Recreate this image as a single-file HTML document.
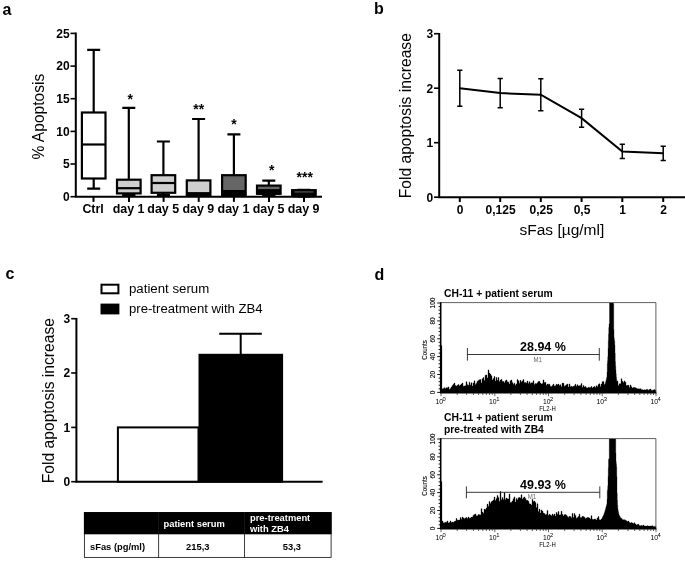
<!DOCTYPE html>
<html><head><meta charset="utf-8"><title>Figure</title>
<style>html,body{margin:0;padding:0;background:#fff;}body{width:685px;height:567px;position:relative;overflow:hidden;font-family:"Liberation Sans",sans-serif;}</style></head>
<body>
<svg width="685" height="567" viewBox="0 0 685 567" style="position:absolute;left:0;top:0;will-change:transform" font-family="'Liberation Sans', sans-serif" fill="#000">
<rect width="685" height="567" fill="#fff"/>
<text x="2.4" y="14.5" font-size="16" font-weight="bold">a</text>
<text x="374" y="13.6" font-size="16" font-weight="bold">b</text>
<text x="5.6" y="279.2" font-size="16" font-weight="bold">c</text>
<text x="374.6" y="279.8" font-size="16" font-weight="bold">d</text>
<g stroke="#000" stroke-width="2" fill="none" stroke-linecap="butt">
<path d="M75.8,32.6 V196.7 M74.8,196.7 H322"/>
<path d="M70.5,196.7 H75.7" stroke-width="1.6"/>
<path d="M70.5,164.0 H75.7" stroke-width="1.6"/>
<path d="M70.5,131.4 H75.7" stroke-width="1.6"/>
<path d="M70.5,98.7 H75.7" stroke-width="1.6"/>
<path d="M70.5,66.1 H75.7" stroke-width="1.6"/>
<path d="M70.5,33.4 H75.7" stroke-width="1.6"/>
<path d="M93.5,196.7 V201.9"/>
<path d="M129,196.7 V201.9"/>
<path d="M163.6,196.7 V201.9"/>
<path d="M198.7,196.7 V201.9"/>
<path d="M233.9,196.7 V201.9"/>
<path d="M269,196.7 V201.9"/>
<path d="M304,196.7 V201.9"/>
</g>
<g stroke="#000" stroke-width="2.2">
<path d="M93.7,112.5 V49.8 M87.2,49.8 H100.2 M93.7,178.4 V188.6 M87.2,188.6 H100.2" fill="none"/>
<rect x="81.9" y="112.5" width="23.6" height="66.0" fill="#fff"/>
<path d="M81.9,144.5 H105.5"/>
<path d="M128.8,179.7 V107.9 M122.30000000000001,107.9 H135.3 M128.8,193.4 V195.7 M122.30000000000001,195.7 H135.3" fill="none"/>
<rect x="117.0" y="179.7" width="23.6" height="13.7" fill="#cfcfcf"/>
<path d="M117.0,188.2 H140.6"/>
<path d="M163.4,175.2 V141.5 M156.9,141.5 H169.9 M163.4,192.8 V195.7 M156.9,195.7 H169.9" fill="none"/>
<rect x="151.6" y="175.2" width="23.6" height="17.6" fill="#cfcfcf"/>
<path d="M151.6,183.0 H175.2"/>
<path d="M198.6,180.4 V119.0 M192.1,119.0 H205.1 M198.6,195.7 V196.0 M192.1,196.0 H205.1" fill="none"/>
<rect x="186.8" y="180.4" width="23.6" height="15.3" fill="#cfcfcf"/>
<path d="M186.8,193.4 H210.4"/>
<path d="M233.9,175.2 V134.3 M227.4,134.3 H240.4 M233.9,195.7 V196.0 M227.4,196.0 H240.4" fill="none"/>
<rect x="222.1" y="175.2" width="23.6" height="20.6" fill="#666"/>
<path d="M222.1,191.1 H245.7"/>
<path d="M268.8,185.6 V180.7 M262.3,180.7 H275.3 M268.8,193.8 V195.7 M262.3,195.7 H275.3" fill="none"/>
<rect x="257.0" y="185.6" width="23.6" height="8.2" fill="#666"/>
<path d="M257.0,190.5 H280.6"/>
<path d="M303.9,190.2 V189.8 M297.4,189.8 H310.4 M303.9,196.0 V196.4 M297.4,196.4 H310.4" fill="none"/>
<rect x="292.1" y="190.2" width="23.6" height="5.9" fill="#666"/>
<path d="M292.1,192.8 H315.7"/>
</g>
<rect x="186.8" y="192.3" width="23.6" height="4.4"/>
<rect x="222.1" y="190.4" width="23.6" height="6.3"/>
<rect x="257" y="189.3" width="23.6" height="5.2"/>
<rect x="292.1" y="189.6" width="23.6" height="7"/>
<rect x="294.5" y="191.5" width="19" height="0.9" fill="#777"/>
<rect x="262.3" y="194" width="13" height="2.5"/>
<rect x="122.3" y="194" width="13" height="2.5"/>
<rect x="157" y="194" width="13" height="2.5"/>
<g font-size="12" font-weight="bold" text-anchor="end">
<text x="69.7" y="201.0">0</text>
<text x="69.7" y="168.3">5</text>
<text x="69.7" y="135.7">10</text>
<text x="69.7" y="103.0">15</text>
<text x="69.7" y="70.4">20</text>
<text x="69.7" y="37.7">25</text>
</g>
<g font-size="12.45" font-weight="bold" text-anchor="middle">
<text x="93.1" y="212.6">Ctrl</text>
<text x="128.6" y="212.6">day 1</text>
<text x="163.2" y="212.6">day 5</text>
<text x="198.29999999999998" y="212.6">day 9</text>
<text x="233.5" y="212.6">day 1</text>
<text x="268.6" y="212.6">day 5</text>
<text x="303.6" y="212.6">day 9</text>
<text x="130.3" y="103.8" font-size="14">*</text>
<text x="198.7" y="113.8" font-size="14">**</text>
<text x="234" y="129.4" font-size="14">*</text>
<text x="271.7" y="174.8" font-size="14">*</text>
<text x="304.7" y="181.8" font-size="14">***</text>
</g>
<text transform="translate(43.8,159.5) rotate(-90)" font-size="15.6">% Apoptosis</text>
<g stroke="#000" stroke-width="2" fill="none">
<path d="M439.2,32.9 V197.2 M438.2,197.2 H685"/>
<path d="M434,197.2 H439.3" stroke-width="1.6"/>
<path d="M434,142.7 H439.3" stroke-width="1.6"/>
<path d="M434,88.2 H439.3" stroke-width="1.6"/>
<path d="M434,33.7 H439.3" stroke-width="1.6"/>
<path d="M459.8,197.2 V202"/>
<path d="M500.2,197.2 V202"/>
<path d="M540.8,197.2 V202"/>
<path d="M581.6,197.2 V202"/>
<path d="M622.3,197.2 V202"/>
<path d="M663.2,197.2 V202"/>
<path d="M459.8,88.2 L500.2,93.1 L540.8,94.7 L581.6,118.2 L622.3,151.4 L663.2,153.3" stroke-width="2"/>
</g>
<g stroke="#000" stroke-width="1.5" fill="none">
<path d="M459.8,70.2 V106.2 M457.2,70.2 H462.40000000000003 M457.2,106.2 H462.40000000000003"/>
<path d="M500.2,78.4 V107.8 M497.59999999999997,78.4 H502.8 M497.59999999999997,107.8 H502.8"/>
<path d="M540.8,78.7 V110.8 M538.1999999999999,78.7 H543.4 M538.1999999999999,110.8 H543.4"/>
<path d="M581.6,109.2 V127.2 M579.0,109.2 H584.2 M579.0,127.2 H584.2"/>
<path d="M622.3,144.3 V158.5 M619.6999999999999,144.3 H624.9 M619.6999999999999,158.5 H624.9"/>
<path d="M663.2,146.2 V160.4 M660.6,146.2 H665.8000000000001 M660.6,160.4 H665.8000000000001"/>
</g>
<g font-size="12" font-weight="bold" text-anchor="end">
<text x="433.2" y="201.5">0</text>
<text x="433.2" y="147.0">1</text>
<text x="433.2" y="92.5">2</text>
<text x="433.2" y="38.0">3</text>
</g>
<g font-size="12" font-weight="bold" text-anchor="middle">
<text x="460.2" y="213.6">0</text>
<text x="500.59999999999997" y="213.6">0,125</text>
<text x="541.1999999999999" y="213.6">0,25</text>
<text x="582.0" y="213.6">0,5</text>
<text x="622.6999999999999" y="213.6">1</text>
<text x="663.6" y="213.6">2</text>
</g>
<text x="519.5" y="235.2" font-size="15.5">sFas [µg/ml]</text>
<text transform="translate(410.8,198.3) rotate(-90)" font-size="15.65">Fold apoptosis increase</text>
<g stroke="#000" stroke-width="2" fill="none">
<path d="M76.4,317.9 V481.7 M75.4,481.7 H322.6"/>
<path d="M71.2,481.7 H76.4" stroke-width="1.6"/>
<path d="M71.2,427.4 H76.4" stroke-width="1.6"/>
<path d="M71.2,373.0 H76.4" stroke-width="1.6"/>
<path d="M71.2,318.7 H76.4" stroke-width="1.6"/>
<rect x="117.9" y="427.4" width="80.6" height="54.3" fill="#fff"/>
<rect x="199.5" y="354.8" width="82.6" height="126.9" fill="#000"/>
<path d="M240.7,355.1 V333.8 M219.2,333.8 H261.8"/>
<rect x="101.5" y="284.7" width="16.9" height="8.6" fill="#fff"/>
<rect x="101.5" y="304.6" width="16.9" height="8.8" fill="#000"/>
</g>
<g font-size="12" font-weight="bold" text-anchor="end">
<text x="70.3" y="486.0">0</text>
<text x="70.3" y="431.7">1</text>
<text x="70.3" y="377.3">2</text>
<text x="70.3" y="323.0">3</text>
</g>
<text x="129" y="293.2" font-size="13.25">patient serum</text>
<text x="129" y="313.3" font-size="13.15">pre-treatment with ZB4</text>
<text transform="translate(54.2,483.2) rotate(-90)" font-size="15.65">Fold apoptosis increase</text>
<rect x="84.4" y="512.6" width="246.7" height="44.8" fill="#fff" stroke="#1a1a1a" stroke-width="0.85"/>
<rect x="83.9" y="512.1" width="247.7" height="22.2" fill="#000"/>
<path d="M158.6,534 V557.4 M244.5,534 V557.4" stroke="#1a1a1a" stroke-width="0.85"/>
<path d="M158.6,512.3 V534 M244.5,512.3 V534" stroke="#2a2a2a" stroke-width="0.5"/>
<g font-size="9.35" font-weight="bold">
<text x="163.5" y="526.8" fill="#fff">patient serum</text>
<text x="250" y="521.4" fill="#fff">pre-treatment</text>
<text x="250" y="532" fill="#fff">with ZB4</text>
<text x="90" y="549.6">sFas (pg/ml)</text>
<text x="197.8" y="549.6" text-anchor="middle">215,3</text>
<text x="291.9" y="549.6" text-anchor="middle">53,3</text>
</g>
<path d="M441.0,392.4L441.0,388.3L442.0,388.3L442.0,389.1L443.0,389.1L443.0,388.4L444.0,388.4L444.0,387.8L445.0,387.8L445.0,388.6L446.0,388.6L446.0,387.7L447.0,387.7L447.0,387.7L448.0,387.7L448.0,386.9L449.0,386.9L449.0,389.2L450.0,389.2L450.0,388.6L451.0,388.6L451.0,386.9L452.0,386.9L452.0,385.5L453.0,385.5L453.0,384.2L454.0,384.2L454.0,383.1L455.0,383.1L455.0,385.5L456.0,385.5L456.0,386.0L457.0,386.0L457.0,385.3L458.0,385.3L458.0,384.5L459.0,384.5L459.0,385.7L460.0,385.7L460.0,385.1L461.0,385.1L461.0,384.1L462.0,384.1L462.0,383.0L463.0,383.0L463.0,386.2L464.0,386.2L464.0,385.9L465.0,385.9L465.0,385.7L466.0,385.7L466.0,381.7L467.0,381.7L467.0,384.8L468.0,384.8L468.0,385.2L469.0,385.2L469.0,382.2L470.0,382.2L470.0,384.9L471.0,384.9L471.0,382.8L472.0,382.8L472.0,385.9L473.0,385.9L473.0,383.0L474.0,383.0L474.0,380.8L475.0,380.8L475.0,384.5L476.0,384.5L476.0,383.2L477.0,383.2L477.0,381.2L478.0,381.2L478.0,380.4L479.0,380.4L479.0,379.7L480.0,379.7L480.0,379.5L481.0,379.5L481.0,382.7L482.0,382.7L482.0,378.7L483.0,378.7L483.0,377.6L484.0,377.6L484.0,380.5L485.0,380.5L485.0,375.2L486.0,375.2L486.0,375.0L487.0,375.0L487.0,377.9L488.0,377.9L488.0,369.9L489.0,369.9L489.0,373.1L490.0,373.1L490.0,374.3L491.0,374.3L491.0,375.7L492.0,375.7L492.0,380.1L493.0,380.1L493.0,378.4L494.0,378.4L494.0,376.6L495.0,376.6L495.0,380.9L496.0,380.9L496.0,377.4L497.0,377.4L497.0,380.3L498.0,380.3L498.0,377.5L499.0,377.5L499.0,381.6L500.0,381.6L500.0,380.1L501.0,380.1L501.0,379.3L502.0,379.3L502.0,381.2L503.0,381.2L503.0,381.6L504.0,381.6L504.0,382.7L505.0,382.7L505.0,380.7L506.0,380.7L506.0,379.9L507.0,379.9L507.0,381.8L508.0,381.8L508.0,382.2L509.0,382.2L509.0,383.9L510.0,383.9L510.0,380.8L511.0,380.8L511.0,380.1L512.0,380.1L512.0,382.6L513.0,382.6L513.0,384.2L514.0,384.2L514.0,383.2L515.0,383.2L515.0,385.2L516.0,385.2L516.0,383.9L517.0,383.9L517.0,379.6L518.0,379.6L518.0,380.7L519.0,380.7L519.0,383.2L520.0,383.2L520.0,380.2L521.0,380.2L521.0,381.9L522.0,381.9L522.0,380.9L523.0,380.9L523.0,379.6L524.0,379.6L524.0,382.5L525.0,382.5L525.0,382.6L526.0,382.6L526.0,383.0L527.0,383.0L527.0,381.1L528.0,381.1L528.0,383.6L529.0,383.6L529.0,381.7L530.0,381.7L530.0,383.6L531.0,383.6L531.0,382.7L532.0,382.7L532.0,382.7L533.0,382.7L533.0,380.7L534.0,380.7L534.0,384.5L535.0,384.5L535.0,383.6L536.0,383.6L536.0,383.7L537.0,383.7L537.0,382.7L538.0,382.7L538.0,381.4L539.0,381.4L539.0,381.3L540.0,381.3L540.0,383.1L541.0,383.1L541.0,383.9L542.0,383.9L542.0,383.6L543.0,383.6L543.0,379.9L544.0,379.9L544.0,382.4L545.0,382.4L545.0,382.3L546.0,382.3L546.0,385.2L547.0,385.2L547.0,384.1L548.0,384.1L548.0,384.2L549.0,384.2L549.0,384.2L550.0,384.2L550.0,386.2L551.0,386.2L551.0,386.4L552.0,386.4L552.0,385.5L553.0,385.5L553.0,384.1L554.0,384.1L554.0,386.1L555.0,386.1L555.0,385.7L556.0,385.7L556.0,384.3L557.0,384.3L557.0,384.8L558.0,384.8L558.0,384.1L559.0,384.1L559.0,385.5L560.0,385.5L560.0,384.7L561.0,384.7L561.0,386.8L562.0,386.8L562.0,383.1L563.0,383.1L563.0,383.3L564.0,383.3L564.0,386.3L565.0,386.3L565.0,385.4L566.0,385.4L566.0,384.8L567.0,384.8L567.0,384.0L568.0,384.0L568.0,387.0L569.0,387.0L569.0,383.9L570.0,383.9L570.0,386.4L571.0,386.4L571.0,386.3L572.0,386.3L572.0,386.7L573.0,386.7L573.0,386.3L574.0,386.3L574.0,385.7L575.0,385.7L575.0,384.3L576.0,384.3L576.0,386.2L577.0,386.2L577.0,384.8L578.0,384.8L578.0,386.0L579.0,386.0L579.0,385.8L580.0,385.8L580.0,385.4L581.0,385.4L581.0,383.6L582.0,383.6L582.0,387.2L583.0,387.2L583.0,385.4L584.0,385.4L584.0,386.9L585.0,386.9L585.0,386.4L586.0,386.4L586.0,387.7L587.0,387.7L587.0,387.9L588.0,387.9L588.0,387.3L589.0,387.3L589.0,387.5L590.0,387.5L590.0,387.4L591.0,387.4L591.0,386.5L592.0,386.5L592.0,388.1L593.0,388.1L593.0,387.0L594.0,387.0L594.0,386.5L595.0,386.5L595.0,387.6L596.0,387.6L596.0,385.8L597.0,385.8L597.0,386.8L598.0,386.8L598.0,384.4L599.0,384.4L599.0,383.8L600.0,383.8L600.0,386.4L601.0,386.4L601.0,384.1L602.0,384.1L602.0,381.7L603.0,381.7L603.0,381.6L604.0,381.6L604.0,384.6L605.0,384.6L605.00,383.9L605.25,383.9L605.25,383.0L605.50,383.0L605.50,382.1L605.75,382.1L605.75,381.2L606.00,381.2L606.00,380.3L606.25,380.3L606.25,379.2L606.50,379.2L606.50,378.1L606.75,378.1L606.75,377.0L607.00,377.0L607.00,372.1L607.25,372.1L607.25,363.6L607.50,363.6L607.50,360.8L607.75,360.8L607.75,356.8L608.00,356.8L608.00,348.3L608.25,348.3L608.25,340.5L608.50,340.5L608.50,334.0L608.75,334.0L608.75,327.6L609.00,327.6L609.00,324.1L609.25,324.1L609.25,323.6L609.50,323.6L609.50,303.0L609.75,303.0L609.75,303.0L610.00,303.0L610.00,303.0L610.25,303.0L610.25,303.0L610.50,303.0L610.50,303.0L610.75,303.0L610.75,303.0L611.00,303.0L611.00,303.0L611.25,303.0L611.25,303.0L611.50,303.0L611.50,303.0L611.75,303.0L611.75,303.0L612.00,303.0L612.00,303.0L612.25,303.0L612.25,303.0L612.50,303.0L612.50,303.0L612.75,303.0L612.75,303.0L613.00,303.0L613.00,303.0L613.25,303.0L613.25,303.0L613.50,303.0L613.50,303.9L613.75,303.9L613.75,329.5L614.00,329.5L614.00,337.6L614.25,337.6L614.25,339.4L614.50,339.4L614.50,341.2L614.75,341.2L614.75,344.9L615.00,344.9L615.00,353.2L615.25,353.2L615.25,361.6L615.50,361.6L615.50,365.9L615.75,365.9L615.75,369.8L616.00,369.8L616.00,373.7L616.25,373.7L616.25,377.0L616.50,377.0L616.50,379.1L616.75,379.1L616.75,381.2L617.00,381.2L617.0,381.1L618.0,381.1L618.0,385.6L619.0,385.6L619.0,383.7L620.0,383.7L620.0,383.7L621.0,383.7L621.0,378.8L622.0,378.8L622.0,381.3L623.0,381.3L623.0,382.5L624.0,382.5L624.0,380.9L625.0,380.9L625.0,382.3L626.0,382.3L626.0,385.5L627.0,385.5L627.0,385.3L628.0,385.3L628.0,385.2L629.0,385.2L629.0,387.5L630.0,387.5L630.0,385.0L631.0,385.0L631.0,386.7L632.0,386.7L632.0,388.0L633.0,388.0L633.0,387.6L634.0,387.6L634.0,387.4L635.0,387.4L635.0,387.7L636.0,387.7L636.0,388.2L637.0,388.2L637.0,388.8L638.0,388.8L638.0,388.7L639.0,388.7L639.0,389.0L640.0,389.0L640.0,388.7L641.0,388.7L641.0,389.4L642.0,389.4L642.0,389.8L643.0,389.8L643.0,389.9L644.0,389.9L644.0,389.8L645.0,389.8L645.0,390.1L646.0,390.1L646.0,389.4L647.0,389.4L647.0,389.4L648.0,389.4L648.0,390.2L649.0,390.2L649.0,389.5L650.0,389.5L650.0,389.0L651.0,389.0L651.0,390.2L652.0,390.2L652.0,390.2L653.0,390.2L653.0,389.9L654.0,389.9L654.0,389.6L655.0,389.6L655.0,390.3L656.0,390.3L656.0,392.4Z" fill="#000" stroke="#000" stroke-width="0.3"/>
<path d="M441,302.6 H655.9 V392.4" fill="none" stroke="#3a3a3a" stroke-width="0.8"/>
<path d="M440.7,302.2 V393.0" fill="none" stroke="#000" stroke-width="1.6"/>
<path d="M440,392.79999999999995 H656.3" fill="none" stroke="#000" stroke-width="1.4"/>
<rect x="440.5" y="345.4" width="1.6" height="47" fill="#000"/>
<g stroke="#000" stroke-width="0.9">
<path d="M437.2,392.4 H441"/>
<path d="M438.6,388.8 H441"/>
<path d="M438.6,385.2 H441"/>
<path d="M438.6,381.7 H441"/>
<path d="M438.6,378.1 H441"/>
<path d="M437.2,374.5 H441"/>
<path d="M438.6,370.9 H441"/>
<path d="M438.6,367.4 H441"/>
<path d="M438.6,363.8 H441"/>
<path d="M438.6,360.2 H441"/>
<path d="M437.2,356.6 H441"/>
<path d="M438.6,353.1 H441"/>
<path d="M438.6,349.5 H441"/>
<path d="M438.6,345.9 H441"/>
<path d="M438.6,342.3 H441"/>
<path d="M437.2,338.8 H441"/>
<path d="M438.6,335.2 H441"/>
<path d="M438.6,331.6 H441"/>
<path d="M438.6,328.0 H441"/>
<path d="M438.6,324.5 H441"/>
<path d="M437.2,320.9 H441"/>
<path d="M438.6,317.3 H441"/>
<path d="M438.6,313.7 H441"/>
<path d="M438.6,310.2 H441"/>
<path d="M438.6,306.6 H441"/>
<path d="M437.2,303.0 H441"/>
<path d="M441.0,392.4 V396.2" stroke-width="0.7" stroke="#222"/>
<path d="M457.2,392.4 V395.0" stroke-width="0.7" stroke="#222"/>
<path d="M466.6,392.4 V395.0" stroke-width="0.7" stroke="#222"/>
<path d="M473.4,392.4 V395.0" stroke-width="0.7" stroke="#222"/>
<path d="M478.6,392.4 V395.0" stroke-width="0.7" stroke="#222"/>
<path d="M482.8,392.4 V395.0" stroke-width="0.7" stroke="#222"/>
<path d="M486.4,392.4 V395.0" stroke-width="0.7" stroke="#222"/>
<path d="M489.5,392.4 V395.0" stroke-width="0.7" stroke="#222"/>
<path d="M492.3,392.4 V395.0" stroke-width="0.7" stroke="#222"/>
<path d="M494.8,392.4 V396.2" stroke-width="0.7" stroke="#222"/>
<path d="M510.9,392.4 V395.0" stroke-width="0.7" stroke="#222"/>
<path d="M520.4,392.4 V395.0" stroke-width="0.7" stroke="#222"/>
<path d="M527.1,392.4 V395.0" stroke-width="0.7" stroke="#222"/>
<path d="M532.3,392.4 V395.0" stroke-width="0.7" stroke="#222"/>
<path d="M536.6,392.4 V395.0" stroke-width="0.7" stroke="#222"/>
<path d="M540.2,392.4 V395.0" stroke-width="0.7" stroke="#222"/>
<path d="M543.3,392.4 V395.0" stroke-width="0.7" stroke="#222"/>
<path d="M546.0,392.4 V395.0" stroke-width="0.7" stroke="#222"/>
<path d="M548.5,392.4 V396.2" stroke-width="0.7" stroke="#222"/>
<path d="M564.7,392.4 V395.0" stroke-width="0.7" stroke="#222"/>
<path d="M574.1,392.4 V395.0" stroke-width="0.7" stroke="#222"/>
<path d="M580.9,392.4 V395.0" stroke-width="0.7" stroke="#222"/>
<path d="M586.1,392.4 V395.0" stroke-width="0.7" stroke="#222"/>
<path d="M590.3,392.4 V395.0" stroke-width="0.7" stroke="#222"/>
<path d="M593.9,392.4 V395.0" stroke-width="0.7" stroke="#222"/>
<path d="M597.0,392.4 V395.0" stroke-width="0.7" stroke="#222"/>
<path d="M599.8,392.4 V395.0" stroke-width="0.7" stroke="#222"/>
<path d="M602.2,392.4 V396.2" stroke-width="0.7" stroke="#222"/>
<path d="M618.4,392.4 V395.0" stroke-width="0.7" stroke="#222"/>
<path d="M627.9,392.4 V395.0" stroke-width="0.7" stroke="#222"/>
<path d="M634.6,392.4 V395.0" stroke-width="0.7" stroke="#222"/>
<path d="M639.8,392.4 V395.0" stroke-width="0.7" stroke="#222"/>
<path d="M644.1,392.4 V395.0" stroke-width="0.7" stroke="#222"/>
<path d="M647.7,392.4 V395.0" stroke-width="0.7" stroke="#222"/>
<path d="M650.8,392.4 V395.0" stroke-width="0.7" stroke="#222"/>
<path d="M653.5,392.4 V395.0" stroke-width="0.7" stroke="#222"/>
<path d="M656,392.4 V396.2" stroke-width="0.7" stroke="#222"/>
</g>
<g font-size="6.6" fill="#000" stroke="#000" stroke-width="0.1" text-anchor="middle">
<text transform="translate(434.7,392.4) rotate(-90)">0</text>
<text transform="translate(434.7,374.5) rotate(-90)">20</text>
<text transform="translate(434.7,356.6) rotate(-90)">40</text>
<text transform="translate(434.7,338.8) rotate(-90)">60</text>
<text transform="translate(434.7,320.9) rotate(-90)">80</text>
<text transform="translate(434.7,303.0) rotate(-90)">100</text>
<text transform="translate(427.3,349.9) rotate(-90)" font-size="6.6" textLength="19.6" lengthAdjust="spacingAndGlyphs">Counts</text>
</g>
<g font-size="6.8" fill="#000">
<text x="435.4" y="404.40000000000003">10<tspan font-size="5.8" dy="-3.4" dx="-0.4">0</tspan></text>
<text x="489.1" y="404.40000000000003">10<tspan font-size="5.8" dy="-3.4" dx="-0.4">1</tspan></text>
<text x="542.9" y="404.40000000000003">10<tspan font-size="5.8" dy="-3.4" dx="-0.4">2</tspan></text>
<text x="596.6" y="404.40000000000003">10<tspan font-size="5.8" dy="-3.4" dx="-0.4">3</tspan></text>
<text x="650.4" y="404.40000000000003">10<tspan font-size="5.8" dy="-3.4" dx="-0.4">4</tspan></text>
<text x="547.5" y="410.6" text-anchor="middle" font-size="7.2" textLength="16.5" lengthAdjust="spacingAndGlyphs">FL2-H</text>
</g>
<path d="M467.4,354.5 H599.3 M467.4,348 V360.7 M599.3,348 V360.7" stroke="#222" stroke-width="0.9" fill="none"/>
<text x="533.5" y="361.5" font-size="6.6" fill="#666" textLength="8.4" lengthAdjust="spacingAndGlyphs">M1</text>
<text x="520" y="350.6" font-size="12.5" font-weight="bold">28.94 %</text>
<text x="444" y="297.2" font-size="10.33" font-weight="bold">CH-11 + patient serum</text>
<path d="M441.0,528.4L441.0,523.2L442.0,523.2L442.0,521.1L443.0,521.1L443.0,522.7L444.0,522.7L444.0,522.7L445.0,522.7L445.0,522.2L446.0,522.2L446.0,522.2L447.0,522.2L447.0,521.1L448.0,521.1L448.0,522.9L449.0,522.9L449.0,522.6L450.0,522.6L450.0,520.9L451.0,520.9L451.0,522.6L452.0,522.6L452.0,522.0L453.0,522.0L453.0,522.3L454.0,522.3L454.0,521.6L455.0,521.6L455.0,521.0L456.0,521.0L456.0,518.5L457.0,518.5L457.0,520.2L458.0,520.2L458.0,520.1L459.0,520.1L459.0,520.0L460.0,520.0L460.0,517.6L461.0,517.6L461.0,519.2L462.0,519.2L462.0,517.0L463.0,517.0L463.0,517.9L464.0,517.9L464.0,518.8L465.0,518.8L465.0,517.9L466.0,517.9L466.0,517.5L467.0,517.5L467.0,518.6L468.0,518.6L468.0,517.0L469.0,517.0L469.0,518.2L470.0,518.2L470.0,518.1L471.0,518.1L471.0,517.1L472.0,517.1L472.0,516.9L473.0,516.9L473.0,515.3L474.0,515.3L474.0,514.5L475.0,514.5L475.0,514.0L476.0,514.0L476.0,515.8L477.0,515.8L477.0,515.8L478.0,515.8L478.0,514.5L479.0,514.5L479.0,514.7L480.0,514.7L480.0,515.0L481.0,515.0L481.0,508.7L482.0,508.7L482.0,512.1L483.0,512.1L483.0,513.2L484.0,513.2L484.0,509.1L485.0,509.1L485.0,509.5L486.0,509.5L486.0,507.9L487.0,507.9L487.0,504.1L488.0,504.1L488.0,506.2L489.0,506.2L489.0,501.6L490.0,501.6L490.0,503.5L491.0,503.5L491.0,501.7L492.0,501.7L492.0,501.1L493.0,501.1L493.0,500.0L494.0,500.0L494.0,497.0L495.0,497.0L495.0,500.4L496.0,500.4L496.0,498.6L497.0,498.6L497.0,495.4L498.0,495.4L498.0,497.4L499.0,497.4L499.0,501.3L500.0,501.3L500.0,491.5L501.0,491.5L501.0,499.7L502.0,499.7L502.0,497.5L503.0,497.5L503.0,499.4L504.0,499.4L504.0,492.6L505.0,492.6L505.0,499.4L506.0,499.4L506.0,498.0L507.0,498.0L507.0,498.8L508.0,498.8L508.0,498.9L509.0,498.9L509.0,494.1L510.0,494.1L510.0,502.4L511.0,502.4L511.0,502.2L512.0,502.2L512.0,501.0L513.0,501.0L513.0,498.8L514.0,498.8L514.0,496.9L515.0,496.9L515.0,502.1L516.0,502.1L516.0,498.6L517.0,498.6L517.0,499.8L518.0,499.8L518.0,497.7L519.0,497.7L519.0,497.6L520.0,497.6L520.0,497.9L521.0,497.9L521.0,494.8L522.0,494.8L522.0,499.1L523.0,499.1L523.0,497.8L524.0,497.8L524.0,496.9L525.0,496.9L525.0,498.4L526.0,498.4L526.0,500.3L527.0,500.3L527.0,500.3L528.0,500.3L528.0,501.3L529.0,501.3L529.0,503.7L530.0,503.7L530.0,503.9L531.0,503.9L531.0,505.1L532.0,505.1L532.0,499.4L533.0,499.4L533.0,501.4L534.0,501.4L534.0,501.1L535.0,501.1L535.0,502.6L536.0,502.6L536.0,507.4L537.0,507.4L537.0,503.8L538.0,503.8L538.0,511.6L539.0,511.6L539.0,509.1L540.0,509.1L540.0,513.1L541.0,513.1L541.0,510.0L542.0,510.0L542.0,511.1L543.0,511.1L543.0,512.9L544.0,512.9L544.0,513.6L545.0,513.6L545.0,514.8L546.0,514.8L546.0,514.3L547.0,514.3L547.0,510.6L548.0,510.6L548.0,515.6L549.0,515.6L549.0,514.3L550.0,514.3L550.0,515.0L551.0,515.0L551.0,515.8L552.0,515.8L552.0,514.1L553.0,514.1L553.0,515.4L554.0,515.4L554.0,514.0L555.0,514.0L555.0,516.0L556.0,516.0L556.0,512.4L557.0,512.4L557.0,514.2L558.0,514.2L558.0,511.5L559.0,511.5L559.0,514.9L560.0,514.9L560.0,514.8L561.0,514.8L561.0,511.2L562.0,511.2L562.0,514.2L563.0,514.2L563.0,516.0L564.0,516.0L564.0,514.7L565.0,514.7L565.0,514.5L566.0,514.5L566.0,515.2L567.0,515.2L567.0,516.6L568.0,516.6L568.0,517.2L569.0,517.2L569.0,516.3L570.0,516.3L570.0,516.4L571.0,516.4L571.0,517.7L572.0,517.7L572.0,513.4L573.0,513.4L573.0,517.5L574.0,517.5L574.0,513.6L575.0,513.6L575.0,515.4L576.0,515.4L576.0,518.2L577.0,518.2L577.0,517.6L578.0,517.6L578.0,516.5L579.0,516.5L579.0,514.3L580.0,514.3L580.0,517.6L581.0,517.6L581.0,517.5L582.0,517.5L582.0,516.3L583.0,516.3L583.0,516.6L584.0,516.6L584.0,517.2L585.0,517.2L585.0,518.4L586.0,518.4L586.0,517.9L587.0,517.9L587.0,517.5L588.0,517.5L588.0,517.4L589.0,517.4L589.0,518.1L590.0,518.1L590.0,519.0L591.0,519.0L591.0,515.7L592.0,515.7L592.0,519.2L593.0,519.2L593.0,519.5L594.0,519.5L594.0,519.1L595.0,519.1L595.0,519.2L596.0,519.2L596.0,519.9L597.0,519.9L597.0,518.1L598.0,518.1L598.0,516.6L599.0,516.6L599.0,519.7L600.0,519.7L600.0,520.1L601.0,520.1L601.0,519.1L602.0,519.1L602.00,518.1L602.25,518.1L602.25,517.6L602.50,517.6L602.50,517.1L602.75,517.1L602.75,516.6L603.00,516.6L603.00,516.1L603.25,516.1L603.25,515.6L603.50,515.6L603.50,515.1L603.75,515.1L603.75,514.4L604.00,514.4L604.00,513.6L604.25,513.6L604.25,512.9L604.50,512.9L604.50,512.1L604.75,512.1L604.75,511.4L605.00,511.4L605.00,510.6L605.25,510.6L605.25,509.8L605.50,509.8L605.50,508.8L605.75,508.8L605.75,507.8L606.00,507.8L606.00,506.8L606.25,506.8L606.25,505.9L606.50,505.9L606.50,504.9L606.75,504.9L606.75,503.9L607.00,503.9L607.00,499.3L607.25,499.3L607.25,491.2L607.50,491.2L607.50,489.3L607.75,489.3L607.75,485.7L608.00,485.7L608.00,476.6L608.25,476.6L608.25,467.6L608.50,467.6L608.50,459.4L608.75,459.4L608.75,458.9L609.00,458.9L609.00,458.5L609.25,458.5L609.25,439.0L609.50,439.0L609.50,439.0L609.75,439.0L609.75,439.0L610.00,439.0L610.00,439.0L610.25,439.0L610.25,439.0L610.50,439.0L610.50,439.0L610.75,439.0L610.75,439.0L611.00,439.0L611.00,439.0L611.25,439.0L611.25,439.0L611.50,439.0L611.50,439.0L611.75,439.0L611.75,439.0L612.00,439.0L612.00,439.0L612.25,439.0L612.25,439.0L612.50,439.0L612.50,439.0L612.75,439.0L612.75,439.0L613.00,439.0L613.00,439.0L613.25,439.0L613.25,439.0L613.50,439.0L613.50,439.0L613.75,439.0L613.75,439.0L614.00,439.0L614.00,439.0L614.25,439.0L614.25,439.0L614.50,439.0L614.50,439.0L614.75,439.0L614.75,439.0L615.00,439.0L615.00,439.0L615.25,439.0L615.25,439.0L615.50,439.0L615.50,439.0L615.75,439.0L615.75,452.9L616.00,452.9L616.00,461.7L616.25,461.7L616.25,464.2L616.50,464.2L616.50,466.7L616.75,466.7L616.75,476.4L617.00,476.4L617.00,493.2L617.25,493.2L617.25,500.0L617.50,500.0L617.50,505.1L617.75,505.1L617.75,508.4L618.00,508.4L618.00,510.6L618.25,510.6L618.25,511.7L618.50,511.7L618.50,512.8L618.75,512.8L618.75,513.8L619.00,513.8L619.00,514.9L619.25,514.9L619.25,515.5L619.50,515.5L619.50,516.0L619.75,516.0L619.75,516.4L620.00,516.4L620.00,516.8L620.25,516.8L620.25,517.3L620.50,517.3L620.50,517.7L620.75,517.7L620.75,518.2L621.00,518.2L621.0,518.3L622.0,518.3L622.0,519.5L623.0,519.5L623.0,519.7L624.0,519.7L624.0,519.7L625.0,519.7L625.0,520.2L626.0,520.2L626.0,520.8L627.0,520.8L627.0,521.6L628.0,521.6L628.0,521.1L629.0,521.1L629.0,522.5L630.0,522.5L630.0,523.1L631.0,523.1L631.0,522.4L632.0,522.4L632.0,523.1L633.0,523.1L633.0,523.6L634.0,523.6L634.0,522.8L635.0,522.8L635.0,524.0L636.0,524.0L636.0,524.9L637.0,524.9L637.0,524.5L638.0,524.5L638.0,524.3L639.0,524.3L639.0,525.5L640.0,525.5L640.0,525.8L641.0,525.8L641.0,525.4L642.0,525.4L642.0,525.8L643.0,525.8L643.0,525.1L644.0,525.1L644.0,526.1L645.0,526.1L645.0,526.1L646.0,526.1L646.0,526.1L647.0,526.1L647.0,525.8L648.0,525.8L648.0,526.1L649.0,526.1L649.0,526.1L650.0,526.1L650.0,526.1L651.0,526.1L651.0,526.0L652.0,526.0L652.0,525.7L653.0,525.7L653.0,526.5L654.0,526.5L654.0,526.5L655.0,526.5L655.0,526.5L656.0,526.5L656.0,528.4Z" fill="#000" stroke="#000" stroke-width="0.3"/>
<path d="M441,438.6 H655.9 V528.4" fill="none" stroke="#3a3a3a" stroke-width="0.8"/>
<path d="M440.7,438.2 V529.0" fill="none" stroke="#000" stroke-width="1.6"/>
<path d="M440,528.8 H656.3" fill="none" stroke="#000" stroke-width="1.4"/>
<rect x="440.5" y="481.4" width="1.6" height="47" fill="#000"/>
<g stroke="#000" stroke-width="0.9">
<path d="M437.2,528.4 H441"/>
<path d="M438.6,524.8 H441"/>
<path d="M438.6,521.2 H441"/>
<path d="M438.6,517.7 H441"/>
<path d="M438.6,514.1 H441"/>
<path d="M437.2,510.5 H441"/>
<path d="M438.6,506.9 H441"/>
<path d="M438.6,503.4 H441"/>
<path d="M438.6,499.8 H441"/>
<path d="M438.6,496.2 H441"/>
<path d="M437.2,492.6 H441"/>
<path d="M438.6,489.1 H441"/>
<path d="M438.6,485.5 H441"/>
<path d="M438.6,481.9 H441"/>
<path d="M438.6,478.3 H441"/>
<path d="M437.2,474.8 H441"/>
<path d="M438.6,471.2 H441"/>
<path d="M438.6,467.6 H441"/>
<path d="M438.6,464.0 H441"/>
<path d="M438.6,460.5 H441"/>
<path d="M437.2,456.9 H441"/>
<path d="M438.6,453.3 H441"/>
<path d="M438.6,449.7 H441"/>
<path d="M438.6,446.2 H441"/>
<path d="M438.6,442.6 H441"/>
<path d="M437.2,439.0 H441"/>
<path d="M441.0,528.4 V532.1999999999999" stroke-width="0.7" stroke="#222"/>
<path d="M457.2,528.4 V531.0" stroke-width="0.7" stroke="#222"/>
<path d="M466.6,528.4 V531.0" stroke-width="0.7" stroke="#222"/>
<path d="M473.4,528.4 V531.0" stroke-width="0.7" stroke="#222"/>
<path d="M478.6,528.4 V531.0" stroke-width="0.7" stroke="#222"/>
<path d="M482.8,528.4 V531.0" stroke-width="0.7" stroke="#222"/>
<path d="M486.4,528.4 V531.0" stroke-width="0.7" stroke="#222"/>
<path d="M489.5,528.4 V531.0" stroke-width="0.7" stroke="#222"/>
<path d="M492.3,528.4 V531.0" stroke-width="0.7" stroke="#222"/>
<path d="M494.8,528.4 V532.1999999999999" stroke-width="0.7" stroke="#222"/>
<path d="M510.9,528.4 V531.0" stroke-width="0.7" stroke="#222"/>
<path d="M520.4,528.4 V531.0" stroke-width="0.7" stroke="#222"/>
<path d="M527.1,528.4 V531.0" stroke-width="0.7" stroke="#222"/>
<path d="M532.3,528.4 V531.0" stroke-width="0.7" stroke="#222"/>
<path d="M536.6,528.4 V531.0" stroke-width="0.7" stroke="#222"/>
<path d="M540.2,528.4 V531.0" stroke-width="0.7" stroke="#222"/>
<path d="M543.3,528.4 V531.0" stroke-width="0.7" stroke="#222"/>
<path d="M546.0,528.4 V531.0" stroke-width="0.7" stroke="#222"/>
<path d="M548.5,528.4 V532.1999999999999" stroke-width="0.7" stroke="#222"/>
<path d="M564.7,528.4 V531.0" stroke-width="0.7" stroke="#222"/>
<path d="M574.1,528.4 V531.0" stroke-width="0.7" stroke="#222"/>
<path d="M580.9,528.4 V531.0" stroke-width="0.7" stroke="#222"/>
<path d="M586.1,528.4 V531.0" stroke-width="0.7" stroke="#222"/>
<path d="M590.3,528.4 V531.0" stroke-width="0.7" stroke="#222"/>
<path d="M593.9,528.4 V531.0" stroke-width="0.7" stroke="#222"/>
<path d="M597.0,528.4 V531.0" stroke-width="0.7" stroke="#222"/>
<path d="M599.8,528.4 V531.0" stroke-width="0.7" stroke="#222"/>
<path d="M602.2,528.4 V532.1999999999999" stroke-width="0.7" stroke="#222"/>
<path d="M618.4,528.4 V531.0" stroke-width="0.7" stroke="#222"/>
<path d="M627.9,528.4 V531.0" stroke-width="0.7" stroke="#222"/>
<path d="M634.6,528.4 V531.0" stroke-width="0.7" stroke="#222"/>
<path d="M639.8,528.4 V531.0" stroke-width="0.7" stroke="#222"/>
<path d="M644.1,528.4 V531.0" stroke-width="0.7" stroke="#222"/>
<path d="M647.7,528.4 V531.0" stroke-width="0.7" stroke="#222"/>
<path d="M650.8,528.4 V531.0" stroke-width="0.7" stroke="#222"/>
<path d="M653.5,528.4 V531.0" stroke-width="0.7" stroke="#222"/>
<path d="M656,528.4 V532.1999999999999" stroke-width="0.7" stroke="#222"/>
</g>
<g font-size="6.6" fill="#000" stroke="#000" stroke-width="0.1" text-anchor="middle">
<text transform="translate(434.7,528.4) rotate(-90)">0</text>
<text transform="translate(434.7,510.5) rotate(-90)">20</text>
<text transform="translate(434.7,492.6) rotate(-90)">40</text>
<text transform="translate(434.7,474.8) rotate(-90)">60</text>
<text transform="translate(434.7,456.9) rotate(-90)">80</text>
<text transform="translate(434.7,439.0) rotate(-90)">100</text>
<text transform="translate(427.3,485.9) rotate(-90)" font-size="6.6" textLength="19.6" lengthAdjust="spacingAndGlyphs">Counts</text>
</g>
<g font-size="6.8" fill="#000">
<text x="435.4" y="540.4">10<tspan font-size="5.8" dy="-3.4" dx="-0.4">0</tspan></text>
<text x="489.1" y="540.4">10<tspan font-size="5.8" dy="-3.4" dx="-0.4">1</tspan></text>
<text x="542.9" y="540.4">10<tspan font-size="5.8" dy="-3.4" dx="-0.4">2</tspan></text>
<text x="596.6" y="540.4">10<tspan font-size="5.8" dy="-3.4" dx="-0.4">3</tspan></text>
<text x="650.4" y="540.4">10<tspan font-size="5.8" dy="-3.4" dx="-0.4">4</tspan></text>
<text x="547.5" y="546.6" text-anchor="middle" font-size="7.2" textLength="16.5" lengthAdjust="spacingAndGlyphs">FL2-H</text>
</g>
<path d="M466.4,492.3 H599.8 M466.4,486.4 V498.3 M599.8,486.4 V498.3" stroke="#222" stroke-width="0.9" fill="none"/>
<text x="527.8" y="499.2" font-size="6.6" fill="#666" textLength="8.4" lengthAdjust="spacingAndGlyphs">M1</text>
<text x="520" y="489.0" font-size="12.5" font-weight="bold">49.93 %</text>
<text x="444" y="420.8" font-size="10.33" font-weight="bold">CH-11 + patient serum</text>
<text x="444" y="433.3" font-size="10.33" font-weight="bold">pre-treated with ZB4</text>
</svg>
</body></html>
